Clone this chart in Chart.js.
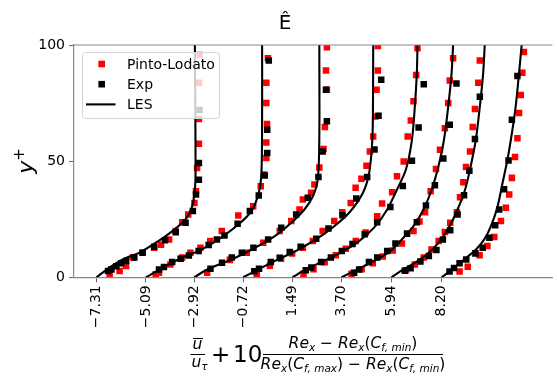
<!DOCTYPE html>
<html>
<head>
<meta charset="utf-8">
<script src="https://cdn.jsdelivr.net/npm/chart.js@4.4.0/dist/chart.umd.min.js"></script>
<style>
  html, body { margin: 0; padding: 0; background: #fff; overflow: hidden; }
  #wrap { width: 557px; height: 380px; }
</style>
</head>
<body>
<div id="wrap"><canvas id="chart" width="557" height="380"></canvas></div>
<script>
// profile offsets (also the x tick positions)
const offsets = [-7.31, -5.09, -2.92, -0.72, 1.49, 3.70, 5.94, 8.20];
const yTicks = [0, 50, 100];

// LES lines, u relative to each offset
const lesU = [
  [0, 0.55, 1.18, 1.93, 2.67, 3.41, 4.00, 4.30, 4.42, 4.45, 4.44, 4.42],
  [0, 0.81, 1.63, 2.45, 3.26, 4.15, 4.74, 5.07, 5.19, 5.22, 5.22],
  [0, 0.65, 1.69, 2.73, 3.62, 4.36, 4.95, 5.33, 5.55, 5.62, 5.62],
  [0, 0.68, 1.57, 2.40, 3.30, 4.09, 4.78, 5.38, 5.66, 5.80, 5.83, 5.84],
  [0, 0.61, 1.37, 2.18, 2.92, 3.68, 4.26, 4.70, 5.10, 5.37, 5.50, 5.59, 5.62],
  [0, 0.71, 1.45, 2.19, 2.71, 3.23, 3.68, 4.05, 4.35, 4.60, 4.79, 4.94, 5.01],
  [0, 0.41, 1.01, 1.60, 2.12, 2.57, 2.97, 3.31, 3.56, 3.79, 3.97, 4.12, 4.19],
  [0, 0.28, 0.65, 1.10, 1.54, 1.91, 2.21, 2.51, 2.73, 2.95, 3.15, 3.32, 3.47, 3.59]
];
const lesY = [
  [0, 4.0, 7.7, 10.6, 14.9, 19.9, 24.9, 30.6, 37.8, 45, 70, 100],
  [0, 4.4, 8.5, 11.7, 16.3, 22.7, 28.5, 36.4, 45, 70, 100],
  [0, 3.7, 7.7, 12.7, 17.7, 23.5, 29.2, 34.9, 42.1, 60, 100],
  [0, 3.4, 7.7, 11.5, 16.5, 22, 28, 36.4, 45, 59, 73.5, 100],
  [0, 3.4, 6.9, 10.7, 15, 21.5, 29.2, 37.8, 46.4, 59.2, 73.5, 87.8, 100],
  [0, 3.4, 7, 11.3, 16.3, 22, 29.2, 37.8, 47.8, 59.2, 73.5, 87.8, 100],
  [0, 2.7, 6, 9.9, 14.9, 21.3, 29.2, 37.8, 47.8, 59.2, 73.5, 87.8, 100],
  [0, 2, 4.8, 8.4, 12, 16.3, 22, 30.6, 40.6, 50.6, 62, 73.5, 87.8, 100]
];

// Pinto-Lodato
const plU = [
  [4.63, 4.60, 4.60, 4.60, 4.52, 4.47, 4.40, 4.12, 3.85, 3.56, 3.26, 2.90, 2.59, 2.07, 1.63, 1.33, 1.04, 0.59],
  [5.48, 5.41, 5.41, 5.44, 5.41, 5.41, 5.31, 5.16, 4.82, 4.15, 3.41, 2.89, 2.45, 2.00, 1.63, 1.10, 0.59, 0.44],
  [5.96, 5.92, 5.96, 5.87, 5.81, 5.62, 5.40, 5.25, 4.88, 4.73, 4.36, 3.84, 3.10, 2.36, 1.60, 0.58],
  [6.05, 6.05, 5.99, 5.94, 5.84, 5.69, 5.54, 5.31, 5.05, 4.83, 4.45, 4.09, 3.57, 3.13, 2.68, 2.20, 1.70, 1.20, 0.61],
  [5.62, 5.56, 5.44, 5.32, 5.18, 5.00, 4.70, 4.48, 4.03, 3.81, 3.29, 2.85, 2.40, 1.95, 1.45, 0.95, 0.50],
  [5.01, 4.86, 4.79, 4.64, 4.42, 4.24, 4.00, 3.75, 3.50, 3.23, 2.71, 2.30, 1.85, 1.40, 0.90, 0.45],
  [3.97, 3.90, 3.75, 3.65, 3.53, 3.35, 3.23, 3.08, 2.94, 2.64, 2.40, 2.12, 1.80, 1.45, 1.05, 0.65],
  [3.69, 3.62, 3.55, 3.47, 3.40, 3.29, 3.15, 3.03, 2.88, 2.66, 2.36, 2.05, 1.70, 1.17, 0.80]
];
const plY = [
  [95.7, 83.8, 68.1, 57.5, 47.1, 37.0, 32.0, 27.0, 23.7, 19.9, 16.3, 14.0, 12.7, 10.6, 8.5, 4.9, 2.7, 1.3],
  [94.3, 83.8, 75, 66, 58, 51.4, 44.2, 39.2, 30.6, 26.6, 19.9, 15.6, 12.7, 10.6, 8.5, 5.5, 2.0, 1.3],
  [99, 89, 80.7, 64.7, 55.2, 47.3, 39.9, 36.4, 33.5, 29.2, 24.2, 19.9, 14.9, 10.6, 7.5, 2],
  [99.6, 89, 80.7, 69.2, 60.6, 54.2, 48, 42.4, 38.5, 32, 28, 24.2, 19.9, 15.6, 12.7, 10.2, 8.0, 5.0, 1.3],
  [98.6, 87.1, 75.8, 67.5, 60.6, 49.9, 43.5, 36.6, 31.8, 26.3, 19.3, 15.6, 12.3, 9.5, 6.5, 3.5, 1.5],
  [94.3, 84.7, 75, 64.2, 54.9, 46.6, 37, 28, 24, 19.9, 14.6, 11.5, 9.0, 6.0, 3.5, 1.5],
  [93.3, 83.8, 72.4, 64.7, 54.2, 47.5, 40.9, 34.5, 28, 23.5, 19.5, 15.6, 12.0, 8.5, 5.5, 3.0],
  [97, 88.1, 78.5, 70.7, 59.9, 51.8, 42.8, 35.6, 29.9, 24.2, 17.4, 13.5, 9.5, 4.5, 2.5]
];

// Exp
const expU = [
  [4.63, 4.60, 4.60, 4.47, 4.33, 4.00, 3.56, 3.08, 2.59, 2.07, 1.70, 1.33, 1.11, 0.89, 0.67, 0.52],
  [5.52, 5.45, 5.45, 5.34, 5.07, 4.67, 4.12, 3.53, 3.19, 2.82, 2.37, 1.93, 1.56, 1.18, 0.81, 0.59],
  [5.92, 5.96, 5.77, 5.58, 5.10, 4.58, 3.91, 3.32, 2.66, 2.14, 1.69, 1.25, 0.73],
  [6.20, 6.08, 5.90, 5.57, 5.08, 4.46, 3.83, 3.28, 2.58, 2.09, 1.64, 1.24, 0.71, 0.50],
  [5.90, 5.67, 5.37, 4.96, 4.40, 3.81, 3.25, 2.70, 2.22, 1.73, 1.29, 0.85, 0.60],
  [5.16, 4.86, 4.57, 4.19, 3.79, 3.38, 2.94, 2.42, 2.05, 1.60, 1.23, 0.79, 0.56],
  [3.97, 3.75, 3.50, 3.26, 2.97, 2.64, 2.31, 2.02, 1.68, 1.30, 0.86, 0.60],
  [3.40, 3.15, 3.00, 2.80, 2.58, 2.40, 2.14, 1.84, 1.51, 1.10, 0.80, 0.55, 0.35]
];
const expY = [
  [72, 49.2, 42, 35.6, 28.5, 23.5, 19.4, 16, 13.2, 10.6, 8.5, 7, 6, 4.8, 3.4, 2.7],
  [93.3, 63.5, 53.5, 43.8, 35.2, 28.5, 23, 18.0, 16.3, 13.9, 11.3, 9.4, 8.0, 6.6, 4.4, 3.4],
  [80.7, 67.2, 54.2, 43.2, 34.2, 27, 21.3, 16.3, 12.7, 10.6, 8.5, 6.3, 3.7],
  [85, 69.5, 55, 43.2, 33.9, 26.7, 21, 16.6, 13.2, 10.9, 8.4, 6.6, 3.7, 2.6],
  [83.1, 64.5, 50.2, 39.3, 30.3, 23.7, 18.5, 14.3, 11.3, 8.5, 6.6, 4.2, 3.0],
  [83.4, 65.7, 51.1, 39.6, 30.9, 23.7, 18.8, 14.5, 11.3, 8.5, 6.6, 3.4, 2.0],
  [77.7, 59.5, 45.9, 35.3, 27, 20.3, 16.3, 11.8, 9.2, 6.8, 3.9, 2.8],
  [86.7, 67.8, 50.3, 37.9, 29.2, 22.4, 17, 12.7, 10.3, 7.7, 6.0, 4.0, 2.5]
];

const xMin = -8.32, xMax = 13.17;
const FONT = "'DejaVu Sans', sans-serif";
Chart.defaults.font.family = FONT;

function pts(off, us, ys) {
  return us.map((u, j) => ({ x: off + u, y: ys[j] }));
}

const datasets = [];
offsets.forEach((off, i) => {
  datasets.push({
    label: 'LES', data: pts(off, lesU[i], lesY[i]), showLine: true,
    borderColor: '#000', borderWidth: 2.1, pointRadius: 0, tension: 0.3, order: 1
  });
  datasets.push({
    label: 'Exp', data: pts(off, expU[i], expY[i]),
    pointStyle: 'rect', pointRadius: 4.6, backgroundColor: '#000', borderWidth: 0, order: 2
  });
  datasets.push({
    label: 'Pinto-Lodato', data: pts(off, plU[i], plY[i]),
    pointStyle: 'rect', pointRadius: 4.6, backgroundColor: '#ff0000', borderWidth: 0, order: 3
  });
});

function fmt(v) {
  return (v < 0 ? '\u2212' : '') + Math.abs(v).toFixed(2);
}

function drawRuns(ctx, runs, cx, base) {
  let w = 0;
  runs.forEach(r => { ctx.font = r.f; r.w = ctx.measureText(r.t).width; w += r.w; });
  let x = cx - w / 2;
  runs.forEach(r => { ctx.font = r.f; ctx.fillText(r.t, x, base + (r.dy || 0)); x += r.w; });
  return { left: cx - w / 2, width: w };
}

const legendItems = ['Pinto-Lodato', 'Exp', 'LES'];

const decor = {
  id: 'decor',
  afterDraw(chart) {
    const ctx = chart.ctx, a = chart.chartArea;
    ctx.save();

    // top spine
    ctx.strokeStyle = '#888';
    ctx.lineWidth = 1.2;
    ctx.beginPath();
    ctx.moveTo(a.left, a.top);
    ctx.lineTo(a.right, a.top);
    ctx.stroke();

    // legend box
    const lx = 82.5, ly = 52.5, lw = 137, lh = 66;
    ctx.beginPath();
    ctx.roundRect(lx, ly, lw, lh, 3);
    ctx.fillStyle = 'rgba(255,255,255,0.8)';
    ctx.fill();
    ctx.strokeStyle = '#d4d4d4';
    ctx.lineWidth = 1;
    ctx.stroke();

    ctx.font = '14px ' + FONT;
    ctx.textBaseline = 'middle';
    legendItems.forEach((name, k) => {
      const ds = chart.data.datasets.find(d => d.label === name);
      const cy = 64 + k * 20.2;
      if (ds.showLine) {
        ctx.strokeStyle = ds.borderColor;
        ctx.lineWidth = ds.borderWidth;
        ctx.beginPath();
        ctx.moveTo(86, cy);
        ctx.lineTo(115.5, cy);
        ctx.stroke();
      } else {
        ctx.fillStyle = ds.backgroundColor;
        ctx.fillRect(101.7 - 3.3, cy - 3.3, 6.6, 6.6);
      }
      ctx.fillStyle = '#000';
      ctx.fillText(name, 127, cy + 1);
    });

    // title
    ctx.textBaseline = 'alphabetic';
    ctx.textAlign = 'center';
    ctx.font = '20px ' + FONT;
    ctx.fillText('\u00CA', 285, 29);

    // y label
    ctx.save();
    ctx.translate(33, 161);
    ctx.rotate(-Math.PI / 2);
    ctx.textAlign = 'left';
    drawRuns(ctx, [
      { t: 'y', f: 'italic 22px ' + FONT },
      { t: '+', f: '15px ' + FONT, dy: -9 }
    ], 0, 0);
    ctx.restore();

    // x label
    ctx.textAlign = 'left';
    const I = 'italic 15.5px ' + FONT, S = 'italic 10.5px ' + FONT, N = '15.5px ' + FONT;
    // u bar / u_tau
    drawRuns(ctx, [{ t: 'u', f: I }], 197.5, 349);
    ctx.strokeStyle = '#000';
    ctx.lineWidth = 1;
    ctx.beginPath(); ctx.moveTo(193, 338.5); ctx.lineTo(203, 338.5); ctx.stroke();
    ctx.beginPath(); ctx.moveTo(190.5, 354.5); ctx.lineTo(205, 354.5); ctx.stroke();
    drawRuns(ctx, [{ t: 'u', f: I }, { t: '\u03C4', f: S, dy: 3 }], 199.5, 367);
    // + 10
    ctx.font = '23px ' + FONT;
    ctx.fillText('+', 211, 362);
    ctx.fillText('10', 233, 362);
    // big fraction
    drawRuns(ctx, [
      { t: 'Re', f: I }, { t: 'x', f: S, dy: 3 }, { t: ' \u2212 ', f: N },
      { t: 'Re', f: I }, { t: 'x', f: S, dy: 3 }, { t: '(', f: N },
      { t: 'C', f: I }, { t: 'f, min', f: S, dy: 3 }, { t: ')', f: N }
    ], 353, 348);
    ctx.beginPath(); ctx.moveTo(263, 354.5); ctx.lineTo(443, 354.5); ctx.stroke();
    drawRuns(ctx, [
      { t: 'Re', f: I }, { t: 'x', f: S, dy: 3 }, { t: '(', f: N },
      { t: 'C', f: I }, { t: 'f, max', f: S, dy: 3 }, { t: ')', f: N },
      { t: ' \u2212 ', f: N },
      { t: 'Re', f: I }, { t: 'x', f: S, dy: 3 }, { t: '(', f: N },
      { t: 'C', f: I }, { t: 'f, min', f: S, dy: 3 }, { t: ')', f: N }
    ], 353, 369);

    ctx.restore();
  }
};

new Chart(document.getElementById('chart'), {
  type: 'scatter',
  data: { datasets },
  options: {
    responsive: false,
    animation: false,
    events: [],
    layout: { padding: { top: 45, right: 0, left: 0, bottom: 0 } },
    plugins: { legend: { display: false }, tooltip: { enabled: false }, title: { display: false } },
    scales: {
      x: {
        type: 'linear', min: xMin, max: xMax,
        afterBuildTicks: s => { s.ticks = offsets.map(v => ({ value: v })); },
        afterFit: s => { s.height = 102.7; },
        ticks: {
          callback: v => fmt(v), autoSkip: false, minRotation: 90, maxRotation: 90,
          font: { size: 14 }, color: '#000', padding: 3
        },
        grid: { drawOnChartArea: false, drawTicks: true, tickLength: 5, tickColor: '#666' },
        border: { color: '#888', width: 1.2 }
      },
      y: {
        type: 'linear', min: 0, max: 100,
        afterBuildTicks: s => { s.ticks = yTicks.map(v => ({ value: v })); },
        afterFit: s => { s.width = 74; },
        ticks: { font: { size: 14 }, color: '#000', padding: 4 },
        grid: { drawOnChartArea: false, drawTicks: true, tickLength: 5, tickColor: '#666' },
        border: { color: '#888', width: 1.2 }
      }
    }
  },
  plugins: [decor]
});
</script>
</body>
</html>
